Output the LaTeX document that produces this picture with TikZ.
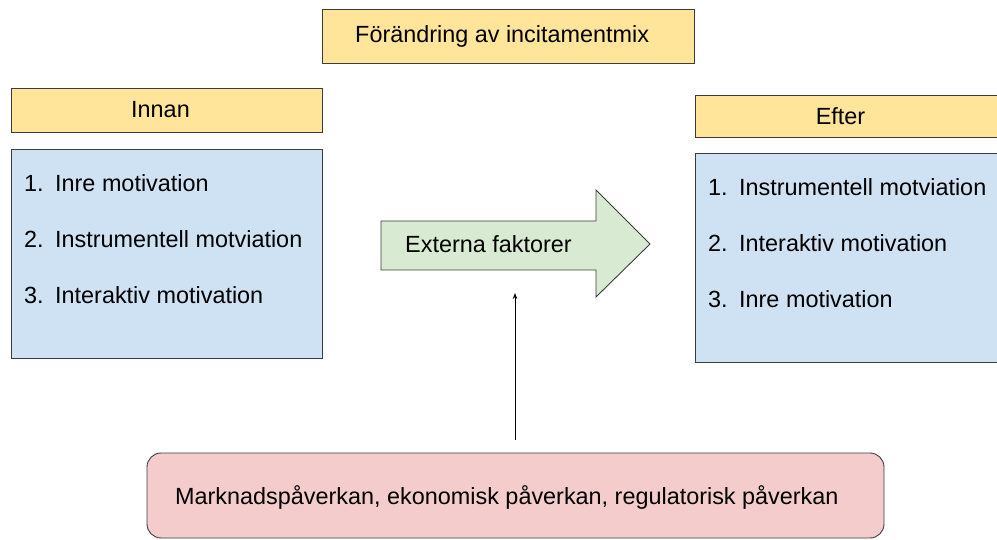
\documentclass[tikz,border=0pt]{standalone}
\usepackage{fontspec}
\setmainfont{Liberation Sans}
\usetikzlibrary{arrows.meta}
\definecolor{headfill}{HTML}{FFE599}
\definecolor{listfill}{HTML}{CFE2F3}
\definecolor{arrowfill}{HTML}{D9EAD3}
\definecolor{causefill}{HTML}{F4CCCC}
\definecolor{edge}{HTML}{3C3C3C}
\tikzset{
  box/.style={draw=edge, line width=0.9pt, minimum width=#1, inner sep=0pt},
  headbox/.style={box=#1, fill=headfill},
  listbox/.style={box=#1, fill=listfill},
  item/.style={anchor=west, inner sep=0pt},
  txt/.style={font=\fontsize{23.4}{28}\selectfont}
}
\newcommand{\itm}[2]{\makebox[31pt][l]{#1}#2}
\begin{document}
\begin{tikzpicture}[x=1pt, y=-1pt, txt]
      \useasboundingbox (0,0) rectangle (997,540);
      % headings
      \node[headbox=372pt, minimum height=54pt] (mix) at (508,36) {};
      \node[item] (mixtxt) at (355,36) {Förändring av incitamentmix};
      \node[headbox=311pt, minimum height=44pt] (innan) at (166.5,110) {Innan\hspace*{12pt}};
      \node[headbox=305pt, minimum height=42pt] (efter) at (847.5,116) {Efter\hspace*{14pt}};
      % lists
      \node[listbox=311pt, minimum height=209pt] (before) at (166.5,253.5) {};
      \node[item] (b1) at (24,183) {\itm{1.}{Inre motivation}};
      \node[item] (b2) at (24,239) {\itm{2.}{Instrumentell motviation}};
      \node[item] (b3) at (24,295) {\itm{3.}{Interaktiv motivation}};
      \node[listbox=305pt, minimum height=209pt] (after) at (847.5,257.5) {};
      \node[item] (a1) at (708,187) {\itm{1.}{Instrumentell motviation}};
      \node[item] (a2) at (708,243) {\itm{2.}{Interaktiv motivation}};
      \node[item] (a3) at (708,299) {\itm{3.}{Inre motivation}};
      % big arrow
      \draw[draw=edge, line width=0.9pt, fill=arrowfill, line join=miter]
        (381,221) -- (596,221) -- (596,190) -- (650,244)
        -- (596,297) -- (596,270) -- (381,270) -- cycle;
      \node[item] (ext) at (405,244) {Externa faktorer};
      % external causes
      \node[box=737pt, minimum height=85pt, fill=causefill, rounded corners=14pt] (cause)
        at (515.5,495.5) {};
      \node[item] (causetxt) at (175,497) {Marknadspåverkan, ekonomisk påverkan, regulatorisk påverkan};
      \coordinate (src) at (515,440);
      \coordinate (dst) at (515,293);
      \draw[-{Stealth[length=6pt,width=4.5pt]}, line width=0.8pt] (src) -- (dst);
    \end{tikzpicture}
\end{document}
